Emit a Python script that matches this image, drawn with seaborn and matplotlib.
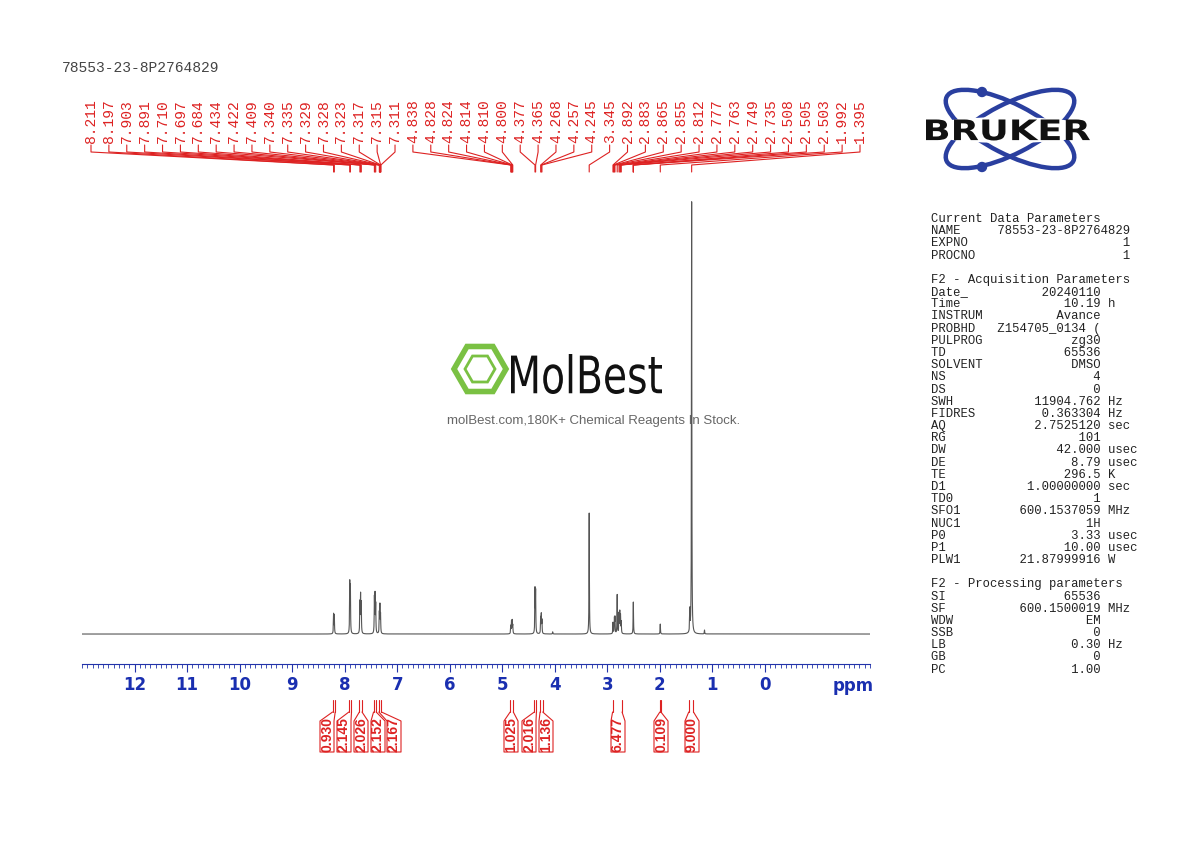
import numpy as np
import matplotlib
matplotlib.use("Agg")
import matplotlib.pyplot as plt
import seaborn as sns
from matplotlib.patches import Ellipse, RegularPolygon, Circle, PathPatch
from matplotlib.textpath import TextPath
from matplotlib.font_manager import FontProperties
from matplotlib.transforms import Affine2D

sns.set_style("white")
plt.rcParams['font.family'] = ['DejaVu Sans']

# peak list (ppm) shown at the top
peak_labels = [8.211, 8.197, 7.903, 7.891, 7.710, 7.697, 7.684, 7.434, 7.422, 7.409,
               7.340, 7.335, 7.329, 7.328, 7.323, 7.317, 7.315, 7.311,
               4.838, 4.828, 4.824, 4.814, 4.810, 4.800, 4.377, 4.365, 4.268, 4.257,
               4.245, 3.345, 2.892, 2.883, 2.865, 2.855, 2.812, 2.777, 2.763, 2.749,
               2.735, 2.508, 2.505, 2.503, 1.992, 1.395]

# line positions and relative heights for the spectrum trace
line_ppm = [8.211, 8.197, 7.903, 7.891, 7.710, 7.697, 7.684, 7.434, 7.422, 7.409,
            7.340, 7.329, 7.317, 4.838, 4.824, 4.810, 4.800, 4.377, 4.365, 4.268,
            4.257, 4.245, 4.04, 3.345, 2.892, 2.865, 2.855, 2.812, 2.777, 2.763,
            2.749, 2.735, 2.505, 1.992, 1.43, 1.395, 1.15]
line_h = [0.045, 0.042, 0.115, 0.105, 0.070, 0.085, 0.068, 0.080, 0.085, 0.065,
          0.045, 0.062, 0.042, 0.018, 0.028, 0.029, 0.018, 0.100, 0.095, 0.035,
          0.042, 0.030, 0.005, 0.280, 0.026, 0.034, 0.036, 0.090, 0.045, 0.048,
          0.040, 0.026, 0.074, 0.023, 0.05, 1.000, 0.009]

# integrals: region start, region end, value
int_from = [8.23, 7.92, 7.72, 7.45, 7.35, 4.85, 4.39, 4.28, 2.90, 2.00, 1.45]
int_to = [8.18, 7.87, 7.67, 7.40, 7.30, 4.79, 4.35, 4.23, 2.72, 1.98, 1.36]
int_vals = ["0.930", "2.145", "2.026", "2.152", "2.167", "1.025", "2.016", "1.136",
            "6.477", "0.109", "9.000"]
int_box_x = [327, 344, 361, 378, 394, 511, 529, 546, 618, 661, 692]

params = """Current Data Parameters
NAME     78553-23-8P2764829
EXPNO                     1
PROCNO                    1

F2 - Acquisition Parameters
Date_          20240110
Time              10.19 h
INSTRUM          Avance
PROBHD   Z154705_0134 (
PULPROG            zg30
TD                65536
SOLVENT            DMSO
NS                    4
DS                    0
SWH           11904.762 Hz
FIDRES         0.363304 Hz
AQ            2.7525120 sec
RG                  101
DW               42.000 usec
DE                 8.79 usec
TE                296.5 K
D1           1.00000000 sec
TD0                   1
SFO1        600.1537059 MHz
NUC1                 1H
P0                 3.33 usec
P1                10.00 usec
PLW1        21.87999916 W

F2 - Processing parameters
SI                65536
SF          600.1500019 MHz
WDW                  EM
SSB                   0
LB                 0.30 Hz
GB                    0
PC                 1.00"""

W, H = 1190, 842
fig = plt.figure(figsize=(W / 100, H / 100), dpi=100)
X0, X1, PPM0, PPM1 = 82, 870, 13.0, -2.0
def px(p):
    return X0 + (PPM0 - p) * (X1 - X0) / (PPM0 - PPM1)

# spectrum
ax = fig.add_axes([X0 / W, 1 - 664 / H, (X1 - X0) / W, 484 / H])
grid = np.sort(np.concatenate([np.linspace(PPM1, PPM0, 40000), np.array(line_ppm)]))
y = np.zeros_like(grid)
for p, h in zip(line_ppm, line_h):
    g = 0.004
    y += h * g**2 / ((grid - p)**2 + g**2)
sns.lineplot(x=grid, y=y, ax=ax, color="#555555", lw=0.8)
ax.set_xlim(PPM0, PPM1)
ax.set_ylim(-0.0694, 1.051)
for s in ["top", "left", "right"]:
    ax.spines[s].set_visible(False)
ax.spines["bottom"].set_color("#2233aa")
ax.set_yticks([])
ax.set_xticks(range(12, -1, -1))
ax.set_xticks(np.arange(-2, 13.01, 0.1), minor=True)
ax.tick_params(axis="x", which="major", bottom=True, direction="out", length=6,
               color="#2233aa", labelcolor="#1a2fb0", labelsize=12, pad=3)
ax.tick_params(axis="x", which="minor", bottom=True, direction="out", length=3,
               color="#2233aa")
for t in ax.get_xticklabels():
    t.set_fontweight("bold")
ax.set_xlabel("")

# overlay in pixel coords
ov = fig.add_axes([0, 0, 1, 1], facecolor="none")
ov.set_xlim(0, W)
ov.set_ylim(H, 0)
ov.axis("off")
red = "#dd2222"
mono = "Liberation Mono"

def fit_text(s, x0, x1, yc, h, color, family, weight="normal"):
    tp = TextPath((0, 0), s, size=10, prop=FontProperties(family=family, weight=weight))
    bb = tp.get_extents()
    sx = (x1 - x0) / bb.width
    sy = h / bb.height
    tr = Affine2D().translate(-bb.x0, -bb.y0).scale(sx, -sy).translate(x0, yc + h / 2)
    ov.add_patch(PathPatch(tr.transform_path(tp), fc=color, ec="none"))

ov.text(853, 686, "ppm", color="#1a2fb0", fontsize=12, fontweight="bold",
        ha="center", va="center")
ov.text(62, 68, "78553-23-8P2764829", family=mono, fontsize=10.5, color="#444444", va="center")

n = len(peak_labels)
lx = np.linspace(91, 860, n)
for x, p in zip(lx, peak_labels):
    ov.text(x, 143, f"{p:.3f}", rotation=90, family=mono, fontsize=10.5, color=red,
            ha="center", va="bottom")
    xp = px(p)
    ov.plot([x, x, xp, xp], [145, 152, 165, 172], color=red, lw=0.8)

for a, b, v, bx in zip(int_from, int_to, int_vals, int_box_x):
    xa, xb = px(a), px(b)
    ov.plot([xa, xa], [700, 712], color=red, lw=0.8)
    ov.plot([xb, xb], [700, 712], color=red, lw=0.8)
    ov.plot([xa, bx - 7, bx - 7, bx + 7, bx + 7, xb], [712, 721, 752, 752, 721, 712],
            color=red, lw=0.8)
    ov.text(bx, 735, v, rotation=90, color=red, fontsize=10, fontweight="bold",
            family="Liberation Sans", ha="center", va="center")

ov.text(931, 213, params, family=mono, fontsize=8.8, color="#222222", va="top",
        linespacing=1.02)

# Bruker logo
for ang in (27, -27):
    ov.add_patch(Ellipse((1010, 129), 142, 50, angle=ang, fill=False, ec="#2a3f9f", lw=3.2))
ov.add_patch(Circle((982, 92), 4.5, color="#2a3f9f"))
ov.add_patch(Circle((982, 167), 4.5, color="#2a3f9f"))
ov.add_patch(Ellipse((1008, 130), 175, 26, fc="white", ec="none"))
fit_text("BRUKER", 926, 1090, 130, 21, "#111111", "DejaVu Sans", "bold")

# MolBest watermark
ov.add_patch(RegularPolygon((480, 369), 6, radius=26, orientation=np.pi / 6, fill=False,
                            ec="#7ac143", lw=4))
ov.add_patch(RegularPolygon((480, 369), 6, radius=15, orientation=np.pi / 6, fill=False,
                            ec="#7ac143", lw=2))
fit_text("MolBest", 511, 662, 374, 40, "#111111", "DejaVu Sans")
ov.text(594, 421, "molBest.com,180K+ Chemical Reagents In Stock.", fontsize=9.5,
        color="#666666", ha="center", va="center", family="Liberation Sans")

fig.savefig("out.png", dpi=100)
